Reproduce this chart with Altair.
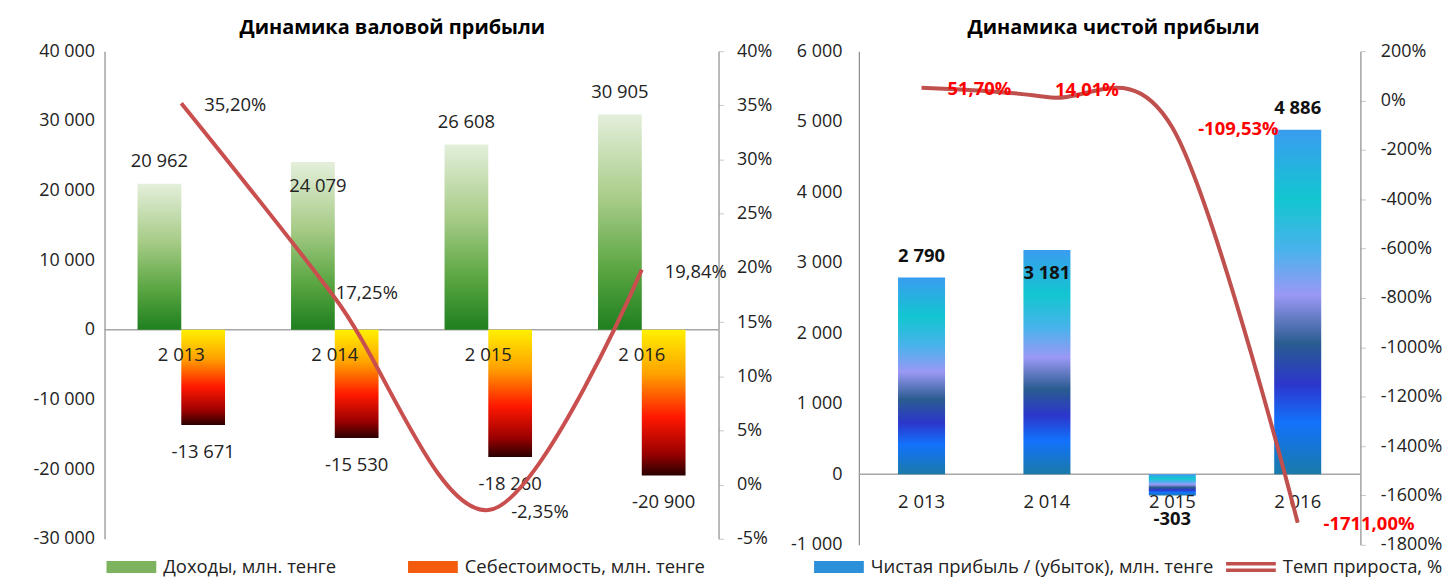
import altair as alt
import pandas as pd

# ---------------- data ----------------
years = ["2 013", "2 014", "2 015", "2 016"]
revenue = [20962, 24079, 26608, 30905]
cost = [-13671, -15530, -18260, -20900]
gross_growth = [0.3520, 0.1725, -0.0235, 0.1984]
net_profit = [2790, 3181, -303, 4886]
net_growth = [0.5170, 0.1401, -1.0953, -17.1100]

s_rev = "Доходы, млн. тенге"
s_cost = "Себестоимость, млн. тенге"
s_net = "Чистая прибыль / (убыток), млн. тенге"
s_rate = "Темп прироста, %"
title_left = "Динамика валовой прибыли"
title_right = "Динамика чистой прибыли"

left_ticks = [-30000, -20000, -10000, 0, 10000, 20000, 30000, 40000]
left_rate_ticks = [-0.05, 0, 0.05, 0.10, 0.15, 0.20, 0.25, 0.30, 0.35, 0.40]
right_ticks = [-1000, 0, 1000, 2000, 3000, 4000, 5000, 6000]
right_rate_ticks = [-18, -16, -14, -12, -10, -8, -6, -4, -2, 0, 2]

bars_left = pd.DataFrame({
    "year": years * 2,
    "series": [s_rev] * 4 + [s_cost] * 4,
    "value": revenue + cost,
})
line_left = pd.DataFrame({"year": years, "rate": gross_growth})
right_df = pd.DataFrame({"year": years, "value": net_profit, "rate": net_growth})
legend_left = pd.DataFrame({"series": [s_rev, s_cost]})
legend_right = pd.DataFrame({"series": [s_net, s_rate]})

# ---------------- styles ----------------
FONT = "Open Sans"
FS = 18.5
TXT = "#222222"
LINE = "#c94f4f"
RECT = "M-1,-0.24H1V0.24H-1Z"
DOUBLE = "M-1,-0.2H1V-0.06H-1Z M-1,0.06H1V0.2H-1Z"


def grad(stops):
    return alt.Gradient(
        gradient="linear",
        stops=[alt.GradientStop(color=c, offset=o) for o, c in stops],
        x1=0, x2=0, y1=0, y2=1,
    )


green = grad([(0, "#e4efdb"), (0.4, "#a6cb86"), (0.72, "#5aa642"), (1, "#1f7f1f")])
red = grad([(0, "#fff000"), (0.3, "#ffa200"), (0.6, "#ff1800"), (0.85, "#9a0000"), (1, "#2a0000")])
blue = grad([(0, "#3a9cf0"), (0.2, "#12c6d0"), (0.35, "#4ab2ec"), (0.48, "#9a98f4"),
             (0.62, "#2a5c90"), (0.74, "#2c36cc"), (0.85, "#1272fc"), (1, "#1a7aa8")])

txt_kw = dict(font=FONT, fontSize=FS, color=TXT)
bold_kw = dict(font=FONT, fontSize=FS, fontWeight="bold", color="#111111")
red_kw = dict(font=FONT, fontSize=FS, fontWeight="bold", color="#ff0000", align="left")
leg_kw = dict(orient="none", direction="horizontal", title=None, labelFont=FONT,
              labelFontSize=FS, labelColor=TXT, symbolSize=2500, symbolStrokeWidth=0,
              labelLimit=600, labelOffset=7)

# ---------------- left chart ----------------
xl = alt.X("year:N", sort=years, axis=None,
           scale=alt.Scale(domain=years, paddingInner=0.43, paddingOuter=0.215))
xo = alt.XOffset("series:N", scale=alt.Scale(domain=[s_rev, s_cost], paddingInner=0, paddingOuter=0))
yl_scale = alt.Scale(domain=[-30000, 40000], nice=False)
yl_axis = alt.Axis(values=left_ticks, format=",d", ticks=False, tickSize=0, orient="left",
                   labelPadding=10, minExtent=92, grid=False, title=None,
                   domainColor="#8c8c8c", domainWidth=1.2)
yl = alt.Y("value:Q", scale=yl_scale, axis=yl_axis)
yl_n = alt.Y("value:Q", scale=yl_scale, axis=None)
y0_l = alt.YDatum(0, scale=yl_scale, axis=None)

base_l = alt.Chart(bars_left)
zero_l = alt.Chart(line_left).transform_filter(alt.datum.year == years[0]).mark_rule(
    color="#a6a6a6", strokeWidth=1.5).encode(y=y0_l)
rev_bars = base_l.transform_filter(alt.datum.series == s_rev).mark_bar(fill=green).encode(
    x=xl, xOffset=xo, y=yl)
cost_bars = base_l.transform_filter(alt.datum.series == s_cost).mark_bar(fill=red).encode(
    x=xl, xOffset=xo, y=yl_n)
rev_lbl = base_l.transform_filter(
    (alt.datum.series == s_rev) & (alt.datum.year != years[1])).mark_text(dy=-23, **txt_kw).encode(
    x=xl, xOffset=xo, y=yl_n, text=alt.Text("value:Q", format=",d"))
rev_lbl2 = base_l.transform_filter(
    (alt.datum.series == s_rev) & (alt.datum.year == years[1])).mark_text(dy=24, dx=5, **txt_kw).encode(
    x=xl, xOffset=xo, y=yl_n, text=alt.Text("value:Q", format=",d"))
cost_lbl = base_l.transform_filter(alt.datum.series == s_cost).mark_text(dy=27, **txt_kw).encode(
    x=xl, xOffset=xo, y=yl_n, text=alt.Text("value:Q", format=",d"))
cat_l = alt.Chart(line_left).mark_text(dy=25, **txt_kw).encode(x=xl, y=y0_l, text="year:N")

leg_l = alt.Legend(legendX=2, legendY=493, columnPadding=72, **leg_kw)
legend_l = alt.Chart(legend_left).transform_filter("false").mark_point(filled=True, opacity=1).encode(
    color=alt.Color("series:N", scale=alt.Scale(domain=[s_rev, s_cost], range=["#7db35e", "#f25c0c"]),
                    legend=leg_l),
    shape=alt.Shape("series:N", scale=alt.Scale(domain=[s_rev, s_cost], range=[RECT, RECT]),
                    legend=leg_l),
)

ylr_scale = alt.Scale(domain=[-0.05, 0.40], nice=False)
ylr_axis = alt.Axis(orient="right", values=left_rate_ticks, format=".0%", tickSize=5,
                    tickColor="#c8c8c8", labelPadding=13, grid=False, title=None,
                    domainColor="#8c8c8c", domainWidth=1.2)
ylr = alt.Y("rate:Q", scale=ylr_scale, axis=ylr_axis)
ylr_n = alt.Y("rate:Q", scale=ylr_scale, axis=None)
line_l = alt.Chart(line_left).mark_line(color=LINE, strokeWidth=4, interpolate="cardinal").encode(
    x=xl, y=ylr)
pct_l = alt.Chart(line_left).transform_filter(alt.datum.year != years[1]).mark_text(
    align="left", dx=23, dy=2, **txt_kw).encode(x=xl, y=ylr_n, text=alt.Text("rate:Q", format=".2%"))
pct_l2 = alt.Chart(line_left).transform_filter(alt.datum.year == years[1]).mark_text(
    align="left", dx=1, dy=-5, **txt_kw).encode(x=xl, y=ylr_n, text=alt.Text("rate:Q", format=".2%"))

left = alt.layer(
    zero_l, rev_bars, cost_bars, rev_lbl, rev_lbl2, cost_lbl, cat_l, legend_l, line_l, pct_l, pct_l2
).resolve_scale(y="independent").properties(
    width=617, height=490,
    title=alt.Title(title_left, font=FONT, fontSize=20, fontWeight="bold", color="#000000",
                    anchor="middle", frame="bounds", offset=4))

# ---------------- right chart ----------------
xr = alt.X("year:N", sort=years, axis=None,
           scale=alt.Scale(domain=years, paddingInner=0.625, paddingOuter=0.3125))
yr_scale = alt.Scale(domain=[-1000, 6000], nice=False)
yr_axis = alt.Axis(values=right_ticks, format=",d", ticks=False, tickSize=0, orient="left",
                   labelPadding=17, minExtent=75, grid=False, title=None,
                   domainColor="#8c8c8c", domainWidth=1.2)
yr = alt.Y("value:Q", scale=yr_scale, axis=yr_axis)
yr_n = alt.Y("value:Q", scale=yr_scale, axis=None)
y0_r = alt.YDatum(0, scale=yr_scale, axis=None)
base_r = alt.Chart(right_df)
zero_r = base_r.transform_filter(alt.datum.year == years[0]).mark_rule(
    color="#a6a6a6", strokeWidth=1.5).encode(y=y0_r)
net_bars = base_r.mark_bar(fill=blue).encode(x=xr, y=yr)
net_lbl = base_r.transform_filter((alt.datum.value >= 0) & (alt.datum.year != years[1])).mark_text(
    dy=-22, **bold_kw).encode(x=xr, y=yr_n, text=alt.Text("value:Q", format=",d"))
net_lbl2 = base_r.transform_filter(alt.datum.year == years[1]).mark_text(
    dy=23, **bold_kw).encode(x=xr, y=yr_n, text=alt.Text("value:Q", format=",d"))
net_lbl3 = base_r.transform_filter(alt.datum.value < 0).mark_text(
    dy=24, **bold_kw).encode(x=xr, y=yr_n, text=alt.Text("value:Q", format=",d"))
cat_r = base_r.mark_text(dy=28, **txt_kw).encode(x=xr, y=y0_r, text="year:N")
leg_r = alt.Legend(legendX=-45, legendY=493, columnPadding=12, **leg_kw)
legend_r = alt.Chart(legend_right).transform_filter("false").mark_point(filled=True, opacity=1).encode(
    color=alt.Color("series:N", scale=alt.Scale(domain=[s_net, s_rate], range=["#2b8fd9", "#c0504d"]),
                    legend=leg_r),
    shape=alt.Shape("series:N", scale=alt.Scale(domain=[s_net, s_rate], range=[RECT, DOUBLE]),
                    legend=leg_r),
)

yrr_scale = alt.Scale(domain=[-18, 2], nice=False)
yrr_axis = alt.Axis(orient="right", values=right_rate_ticks, format=".0%", tickSize=5,
                    tickColor="#c8c8c8", labelPadding=15, grid=False, title=None,
                    domainColor="#8c8c8c", domainWidth=1.2)
yrr = alt.Y("rate:Q", scale=yrr_scale, axis=yrr_axis)
yrr_n = alt.Y("rate:Q", scale=yrr_scale, axis=None)
line_r = base_r.mark_line(color="#c0504d", strokeWidth=4, interpolate="cardinal").encode(x=xr, y=yrr)
pct_r = base_r.transform_filter(alt.datum.year != years[1]).mark_text(dx=26, dy=1, **red_kw).encode(
    x=xr, y=yrr_n, text=alt.Text("rate:Q", format=".2%"))
pct_r2 = base_r.transform_filter(alt.datum.year == years[1]).mark_text(dx=8, dy=-7, **red_kw).encode(
    x=xr, y=yrr_n, text=alt.Text("rate:Q", format=".2%"))

right = alt.layer(
    zero_r, net_bars, net_lbl, net_lbl2, net_lbl3, cat_r, legend_r, line_r, pct_r, pct_r2
).resolve_scale(y="independent").properties(
    width=504, height=496,
    title=alt.Title(title_right, font=FONT, fontSize=20, fontWeight="bold", color="#000000",
                    anchor="middle", frame="bounds", offset=4))

chart = alt.hconcat(left, right, spacing=12).resolve_scale(
    color="independent", shape="independent"
).properties(
    padding={"left": 5, "right": 0, "top": 9, "bottom": 0}
).configure(
    locale=alt.Locale(number=alt.NumberLocale(decimal=",", thousands=" ", grouping=[3],
                                              currency=["", ""], minus="-")),
    background="#ffffff",
).configure_view(stroke=None).configure_axis(
    labelFont=FONT, labelFontSize=18, labelColor=TXT
)

chart.save("out.html", embed_options={"renderer": "svg", "actions": False})
